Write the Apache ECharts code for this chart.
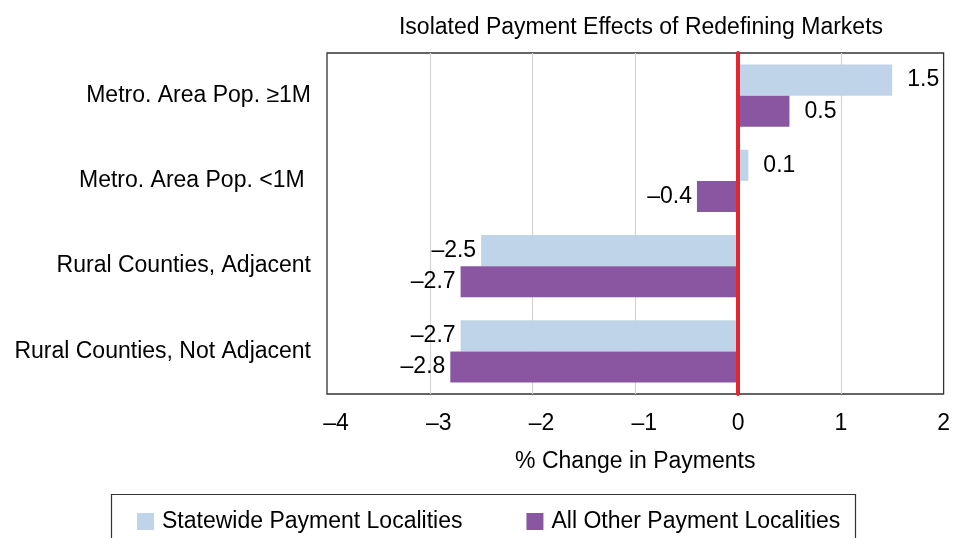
<!DOCTYPE html>
<html>
<head>
<meta charset="utf-8">
<script src="https://cdn.jsdelivr.net/npm/echarts@6/dist/echarts.min.js"></script>
<style>html,body{margin:0;padding:0;background:#fff}#c{width:953px;height:538px}</style>
</head>
<body>
<div id="c"></div>
<script>
const categories = ["Metro. Area Pop. \u22651M", "Metro. Area Pop. <1M ", "Rural Counties, Adjacent", "Rural Counties, Not Adjacent"];
const statewide = [1.5, 0.1, -2.5, -2.7];
const allOther = [0.5, -0.4, -2.7, -2.8];
const seriesNames = ["Statewide Payment Localities", "All Other Payment Localities"];
const titleText = "Isolated Payment Effects of Redefining Markets";
const xAxisName = "% Change in Payments";

const FONT = "Liberation Sans, Arial, Helvetica, sans-serif";
const fmt = v => (v < 0 ? "\u2013" + Math.abs(v) : String(v));
const mk = arr => arr.map(v => ({ value: v, label: { position: v < 0 ? "left" : "right", distance: v < 0 ? 5 : 15 } }));

const chart = echarts.init(document.getElementById("c"));
chart.setOption({
  animation: false,
  textStyle: { fontFamily: FONT },
  title: { text: titleText, left: 636, top: 11, textAlign: "center",
    textStyle: { fontFamily: FONT, fontSize: 23, fontWeight: "normal", color: "#000" } },
  grid: { left: 327, right: 7, top: 53, bottom: 144, show: true, borderColor: "#333", borderWidth: 1.3, containLabel: false },
  xAxis: {
    type: "value", min: -4, max: 2, interval: 1,
    name: xAxisName, nameLocation: "middle", nameGap: 56,
    nameTextStyle: { fontFamily: FONT, fontSize: 23, color: "#000" },
    axisLine: { show: false }, axisTick: { show: false },
    axisLabel: { fontFamily: FONT, fontSize: 23, color: "#000", margin: 18,
      formatter: v => (v < 0 ? "{n|" + fmt(v) + "}" : "{p|" + fmt(v) + "}"),
      rich: { n: { fontFamily: FONT, fontSize: 23, color: "#000", padding: [0, 0, 0, 18] },
              p: { fontFamily: FONT, fontSize: 23, color: "#000" } } },
    splitLine: { show: true, showMinLine: false, showMaxLine: false, lineStyle: { color: "#d4d4d4", width: 1.2 } }
  },
  yAxis: {
    type: "category", data: categories, inverse: true, z: 10,
    axisLine: { show: true, onZero: true, lineStyle: { color: "#e3262e", width: 4 } },
    axisTick: { show: false },
    axisLabel: { fontFamily: FONT, fontSize: 23, color: "#000", margin: 16 }
  },
  legend: {
    data: seriesNames, left: 132, top: 505, itemWidth: 17, itemHeight: 17, itemGap: 64,
    icon: "rect", textStyle: { fontFamily: FONT, fontSize: 23, color: "#000", padding: [0, 0, 0, 3] }
  },
  graphic: [{ type: "rect", left: 109, top: 492, shape: { width: 744, height: 60 },
    style: { fill: "none", stroke: "#333", lineWidth: 1.2 } }],
  series: [
    { name: seriesNames[0], type: "bar", data: mk(statewide), barGap: "0%", barCategoryGap: "27%",
      itemStyle: { color: "#bfd4e9" },
      label: { show: true, fontFamily: FONT, fontSize: 23, color: "#000", formatter: p => fmt(p.value) } },
    { name: seriesNames[1], type: "bar", data: mk(allOther), barGap: "0%", barCategoryGap: "27%",
      itemStyle: { color: "#8a56a1" },
      label: { show: true, fontFamily: FONT, fontSize: 23, color: "#000", formatter: p => fmt(p.value) } }
  ]
});
</script>
</body>
</html>
